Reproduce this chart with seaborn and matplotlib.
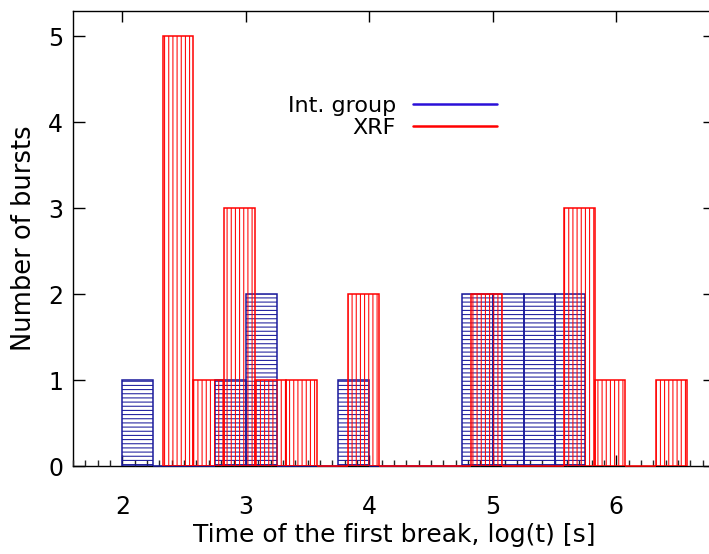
import numpy as np
import pandas as pd
import matplotlib
matplotlib.use("Agg")
import matplotlib.pyplot as plt
import seaborn as sns
from matplotlib.lines import Line2D
from matplotlib.ticker import MultipleLocator
from matplotlib.colors import to_rgba

# ---- data ----
bin_width = 0.25
int_start = 2.0
int_counts = [1, 0, 0, 1, 2, 0, 0, 1, 0, 0, 0, 2, 2, 2, 2]
xrf_start = 2.325
xrf_counts = [5, 1, 3, 1, 1, 0, 2, 0, 0, 0, 2, 0, 0, 3, 1, 0, 1]
series_labels = ["Int. group", "XRF"]
x_label = "Time of the first break, log(t) [s]"
y_label = "Number of bursts"

int_edges = [float(v) for v in int_start + bin_width * np.arange(len(int_counts) + 1)]
xrf_edges = [float(v) for v in xrf_start + bin_width * np.arange(len(xrf_counts) + 1)]
int_df = pd.DataFrame({"t": [(a + b) / 2 for a, b in zip(int_edges[:-1], int_edges[1:])],
                       "n": int_counts})
xrf_df = pd.DataFrame({"t": [(a + b) / 2 for a, b in zip(xrf_edges[:-1], xrf_edges[1:])],
                       "n": xrf_counts})

sns.set_theme(style="white")
plt.rcParams["font.family"] = ["DejaVu Sans"]
plt.rcParams["hatch.linewidth"] = 0.75

BLUE = "#1a1a9c"
BLUE_LEG = "#2a10d8"
RED = "#ff0000"


def style_bars(patches, color, hatch):
    rgba = to_rgba(color)
    for p in patches:
        p.set_alpha(None)
        # nearly transparent white face so hatch antialiasing blends to white
        p.set_facecolor((1, 1, 1, 0.004))
        p.set_hatch(hatch)
        p.set_edgecolor(rgba)
        p._hatch_color = rgba
        p.set_linewidth(1.1)
        if p.get_height() == 0:
            p.set_clip_on(False)


fig = plt.figure(figsize=(7.09, 5.54), dpi=100)
L, R, B, T = 73, 715, 466, 10.7
ax = fig.add_axes([L / 709, (554 - B) / 554, (R - L) / 709, (B - T) / 554])

sns.histplot(data=int_df, x="t", weights="n", bins=int_edges, ax=ax,
             element="bars", fill=True, stat="count", color=BLUE)
n_int = len(ax.patches)
style_bars(ax.patches[:n_int], BLUE, "----")

sns.histplot(data=xrf_df, x="t", weights="n", bins=xrf_edges, ax=ax,
             element="bars", fill=True, stat="count", color=RED)
style_bars(ax.patches[n_int:], RED, "||||")

ax.set_xlim(1.6, 6.8)
ax.set_ylim(0, 5.3)
ax.xaxis.set_major_locator(MultipleLocator(1))
ax.xaxis.set_minor_locator(MultipleLocator(0.1))
ax.yaxis.set_major_locator(MultipleLocator(1))

for s in ax.spines.values():
    s.set_color("black")
    s.set_linewidth(1.0)
    s.set_zorder(0.5)

ax.tick_params(axis="x", which="major", direction="in", length=8, width=1,
               top=True, bottom=True, labelsize=17, pad=21, colors="black")
ax.tick_params(axis="x", which="minor", direction="in", length=4.5, width=1,
               top=False, bottom=True)
ax.tick_params(axis="y", which="major", direction="in", length=8.5, width=1,
               left=True, right=True, labelsize=17, pad=7, colors="black")

ax.set_xlabel(x_label, fontsize=18, labelpad=3, color="black")
ax.set_ylabel(y_label, fontsize=18.5, labelpad=8, color="black")

handles = [Line2D([], [], color=BLUE_LEG, lw=1.8),
           Line2D([], [], color=RED, lw=1.8)]
ax.legend(handles, series_labels, loc="upper right",
          bbox_to_anchor=((497 - L) / (R - L), (B - 96) / (B - T)),
          markerfirst=False, frameon=False, fontsize=16, labelcolor="black",
          handlelength=3.8, handletextpad=0.75, labelspacing=0.08,
          borderpad=0, borderaxespad=0)

fig.savefig("out.png", dpi=100)
